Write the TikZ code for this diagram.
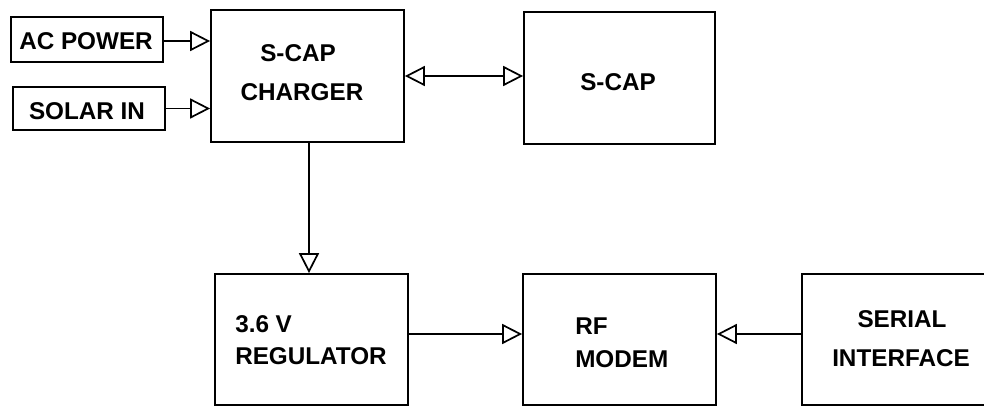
\documentclass[tikz,border=0pt]{standalone}
\usepackage{fontspec}
\setmainfont{Liberation Sans}
\usetikzlibrary{arrows.meta,calc}
\begin{document}
\begin{tikzpicture}[x=0.75pt,y=-0.75pt,
  box/.style={draw, line width=1.3pt, rectangle, inner sep=0pt},
  lbl/.style={font=\bfseries\fontsize{18.2}{20}\selectfont, inner sep=0pt, anchor=base},
  lbll/.style={lbl, anchor=base west},
  arr/.style={line width=1.3pt, -{Triangle[open,length=15pt,width=15pt]}},
  darr/.style={line width=1.3pt, {Triangle[open,length=15pt,width=15pt]}-{Triangle[open,length=15pt,width=15pt]}}]
\clip (0,0) rectangle (984,406);
\useasboundingbox (0,0) rectangle (984,406);
% boxes
\node[box, minimum width=152*0.75pt, minimum height=45*0.75pt] (ac) at (87,39.5) {};
\node[box, minimum width=152*0.75pt, minimum height=43*0.75pt] (solar) at (89,108.5) {};
\node[box, minimum width=193*0.75pt, minimum height=132*0.75pt] (charger) at (307.5,76) {};
\node[box, minimum width=191*0.75pt, minimum height=132*0.75pt] (scap) at (619.5,78) {};
\node[box, minimum width=193*0.75pt, minimum height=131*0.75pt] (reg) at (311.5,339.5) {};
\node[box, minimum width=193*0.75pt, minimum height=131*0.75pt] (rf) at (619.5,339.5) {};
\node[box, minimum width=198*0.75pt, minimum height=131*0.75pt] (serial) at (901,339.5) {};
% labels
\node[lbl] (tac) at (86,50) {AC POWER};
\node[lbl] (tsolar) at (87,119.5) {SOLAR IN};
\node[lbl] (tch1) at (298,62) {S-CAP};
\node[lbl] (tch2) at (302,101) {CHARGER};
\node[lbl] (tscap) at (618,91) {S-CAP};
\node[lbll] (treg1) at (235,332) {3.6 V};
\node[lbll] (treg2) at (235,364) {REGULATOR};
\node[lbll] (trf1) at (575,334) {RF};
\node[lbll] (trf2) at (575,367) {MODEM};
\node[lbl] (tser1) at (902,327) {SERIAL};
\node[lbl] (tser2) at (901,366) {INTERFACE};
% connectors
\draw[arr] ($(ac.east)+(0,1.5)$) -- ($(ac.east -| charger.west)+(0,1.5)$);
\draw[arr] (solar.east) -- (solar.east -| charger.west);
\draw[darr] (charger.east) -- (charger.east -| scap.west);
\draw[arr] ($(charger.south)+(1.5,0)$) -- ($(charger.south |- reg.north)+(1.5,0)$);
\draw[arr] ($(reg.east)+(0,-5.5)$) -- ($(reg.east -| rf.west)+(0,-5.5)$);
\draw[arr] ($(serial.west)+(0,-5.5)$) -- ($(serial.west -| rf.east)+(0,-5.5)$);
\end{tikzpicture}
\end{document}
